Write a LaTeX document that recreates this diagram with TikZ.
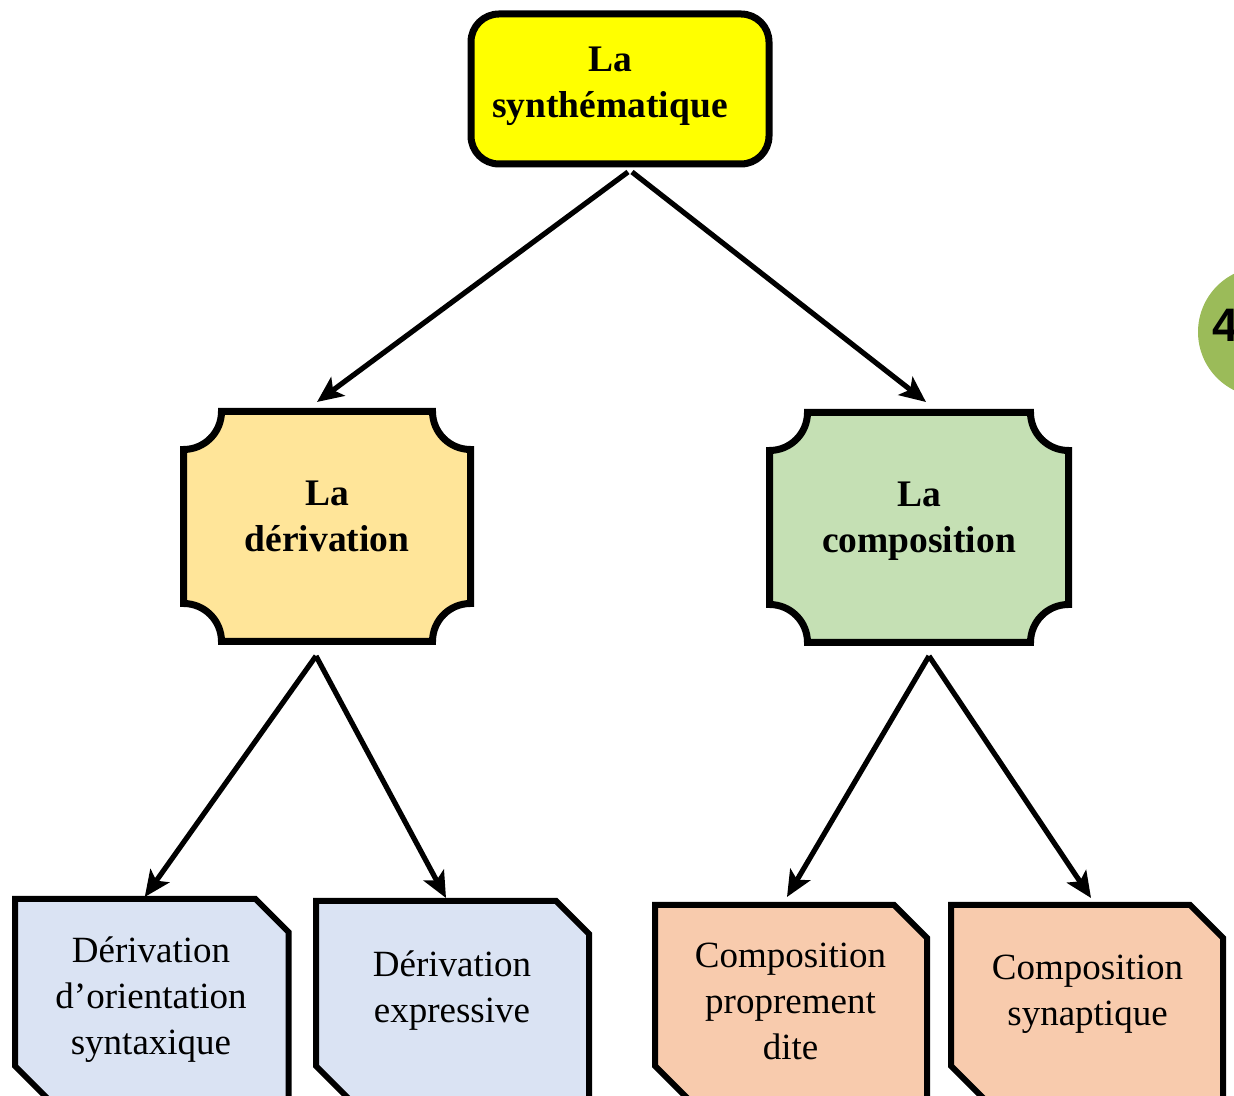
\documentclass[tikz,border=0pt]{standalone}
\usepackage{fontspec}
\setmainfont{Liberation Serif}
\newfontfamily\numfont{Liberation Sans}
\usetikzlibrary{arrows.meta,calc}
\definecolor{cyellow}{HTML}{FFFF00}
\definecolor{cgold}{HTML}{FFE599}
\definecolor{cgreen}{HTML}{C5E0B4}
\definecolor{cblue}{HTML}{DAE3F3}
\definecolor{corange}{HTML}{F8CBAD}
\definecolor{colive}{HTML}{9BBB59}
\tikzset{
  shapebox/.style={draw=none, inner sep=0pt, outer sep=0pt, rectangle},
  boldtxt/.style={font=\fontsize{37.5}{46}\selectfont\bfseries, align=center, inner sep=0pt},
  plaintxt/.style={font=\fontsize{37}{46}\selectfont, align=center, inner sep=0pt},
  arr/.style={line width=5.2pt, -{Stealth[length=26pt,width=23pt,inset=6pt]}},
  topbox/.style={draw=black, fill=cyellow, line width=7pt, rounded corners=28pt, inner sep=0pt, outer sep=0pt, minimum width=298pt, minimum height=150pt},
}
\newcommand\plaquebox[3]{%
  \filldraw[fill=#2, line width=7pt]
    ([xshift=#3]#1.north west) -- ([xshift=-#3]#1.north east)
    arc[start angle=180,end angle=270,radius=#3]
    -- ([yshift=#3]#1.south east)
    arc[start angle=90,end angle=180,radius=#3]
    -- ([xshift=#3]#1.south west)
    arc[start angle=0,end angle=90,radius=#3]
    -- ([yshift=-#3]#1.north west)
    arc[start angle=270,end angle=360,radius=#3] -- cycle;}
\newcommand\snipbox[3]{%
  \filldraw[fill=#2, line width=6pt]
    (#1.north west) -- ([xshift=-#3]#1.north east) -- ([yshift=-#3]#1.north east)
    -- (#1.south east) -- ([xshift=#3]#1.south west) -- ([yshift=#3]#1.south west) -- cycle;}
\begin{document}
\begin{tikzpicture}[x=1pt,y=1pt]
\useasboundingbox (0,0) rectangle (1234,1095);
\clip (0,0) rectangle (1234,1095);

% side circle
\fill[colive] (1263,763) circle[radius=65];
\node[anchor=base west, inner sep=0pt, font=\numfont\fontsize{47}{47}\selectfont\bfseries] (num) at (1212,753) {4};

% top box
\node[topbox] (top) at (620,1006) {};
\node[boldtxt] (toptxt) at (610,1009) {La\\synthématique};

% plaques
\node[shapebox, minimum width=287pt, minimum height=230pt] (der) at (327,568.5) {};
\plaquebox{der}{cgold}{38pt}
\node[boldtxt] (dertxt) at (327,579) {La\\dérivation};

\node[shapebox, minimum width=299pt, minimum height=230pt] (com) at (919,567.5) {};
\plaquebox{com}{cgreen}{38pt}
\node[boldtxt] (comtxt) at (919,574) {La\\composition};

% bottom boxes
\node[shapebox, minimum width=273.5pt, minimum height=200pt] (b1) at (151.75,96) {};
\snipbox{b1}{cblue}{33pt}
\node[plaintxt] (b1txt) at (151,95.5) {Dérivation\\d’orientation\\syntaxique};

\node[shapebox, minimum width=273pt, minimum height=198pt] (b2) at (452.5,95) {};
\snipbox{b2}{cblue}{33pt}
\node[plaintxt] (b2txt) at (452,104) {Dérivation\\expressive};

\node[shapebox, minimum width=272pt, minimum height=194pt] (b3) at (791,93) {};
\snipbox{b3}{corange}{33pt}
\node[plaintxt] (b3txt) at (790.5,93.5) {Composition\\proprement\\dite};

\node[shapebox, minimum width=272pt, minimum height=194pt] (b4) at (1087,93) {};
\snipbox{b4}{corange}{33pt}
\node[plaintxt] (b4txt) at (1087.5,100.5) {Composition\\synaptique};

% connectors
\draw[arr] ([xshift=8pt,yshift=-8pt]top.south) -- ([xshift=-10pt,yshift=9.5pt]der.north);
\draw[arr] ([xshift=12pt,yshift=-8pt]top.south) -- ([xshift=7pt,yshift=10.5pt]com.north);
\draw[arr] ([xshift=-11pt,yshift=-14.5pt]der.south) -- ([xshift=-7pt,yshift=2pt]b1.north);
\draw[arr] ([xshift=-11pt,yshift=-14.5pt]der.south) -- ([xshift=-6.5pt,yshift=3pt]b2.north);
\draw[arr] ([xshift=10pt,yshift=-13.5pt]com.south) -- ([xshift=-4pt,yshift=8pt]b3.north);
\draw[arr] ([xshift=10pt,yshift=-13.5pt]com.south) -- ([xshift=4pt,yshift=7pt]b4.north);
\end{tikzpicture}
\end{document}
